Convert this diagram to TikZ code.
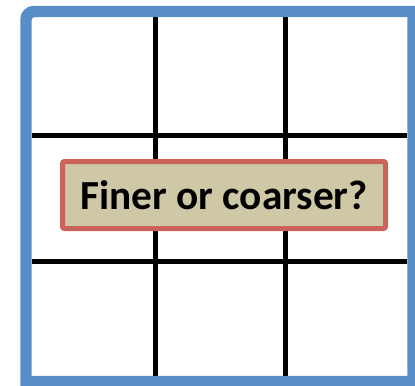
\documentclass[tikz,border=0pt]{standalone}
\usepackage{fontspec}
\setmainfont{Carlito}
\definecolor{frameblue}{RGB}{88,142,199}
\definecolor{boxred}{RGB}{204,100,92}
\definecolor{boxtan}{RGB}{206,200,166}
\begin{document}
\begin{tikzpicture}[x=0.75pt, y=-0.75pt]
     \useasboundingbox (0,0) rectangle (415,386);

     % Grid lines
     \foreach \gx in {155.5, 285.5} {
         \draw[line width=3.75pt, black] (\gx,17) -- (\gx,376);
     }
     \foreach \gy in {135.5, 261.5} {
         \draw[line width=3.75pt, black] (32,\gy) -- (407,\gy);
     }

     % Outer frame (only the top left corner is rounded)
     \draw[line width=8.6pt, frameblue] (26,381.5) [rounded corners=6pt] -- (26,11.5) [sharp corners] -- (413,11.5) -- (413,381.5) -- cycle;

     % Question box
     \node[draw=boxred, fill=boxtan, line width=3.75pt, rounded corners=1.5pt, minimum width=242.25pt, minimum height=50.25pt, align=center, font=\fontsize{31}{36}\selectfont\bfseries] (question) at (224,195) {Finer or coarser?};

\end{tikzpicture}
\end{document}
